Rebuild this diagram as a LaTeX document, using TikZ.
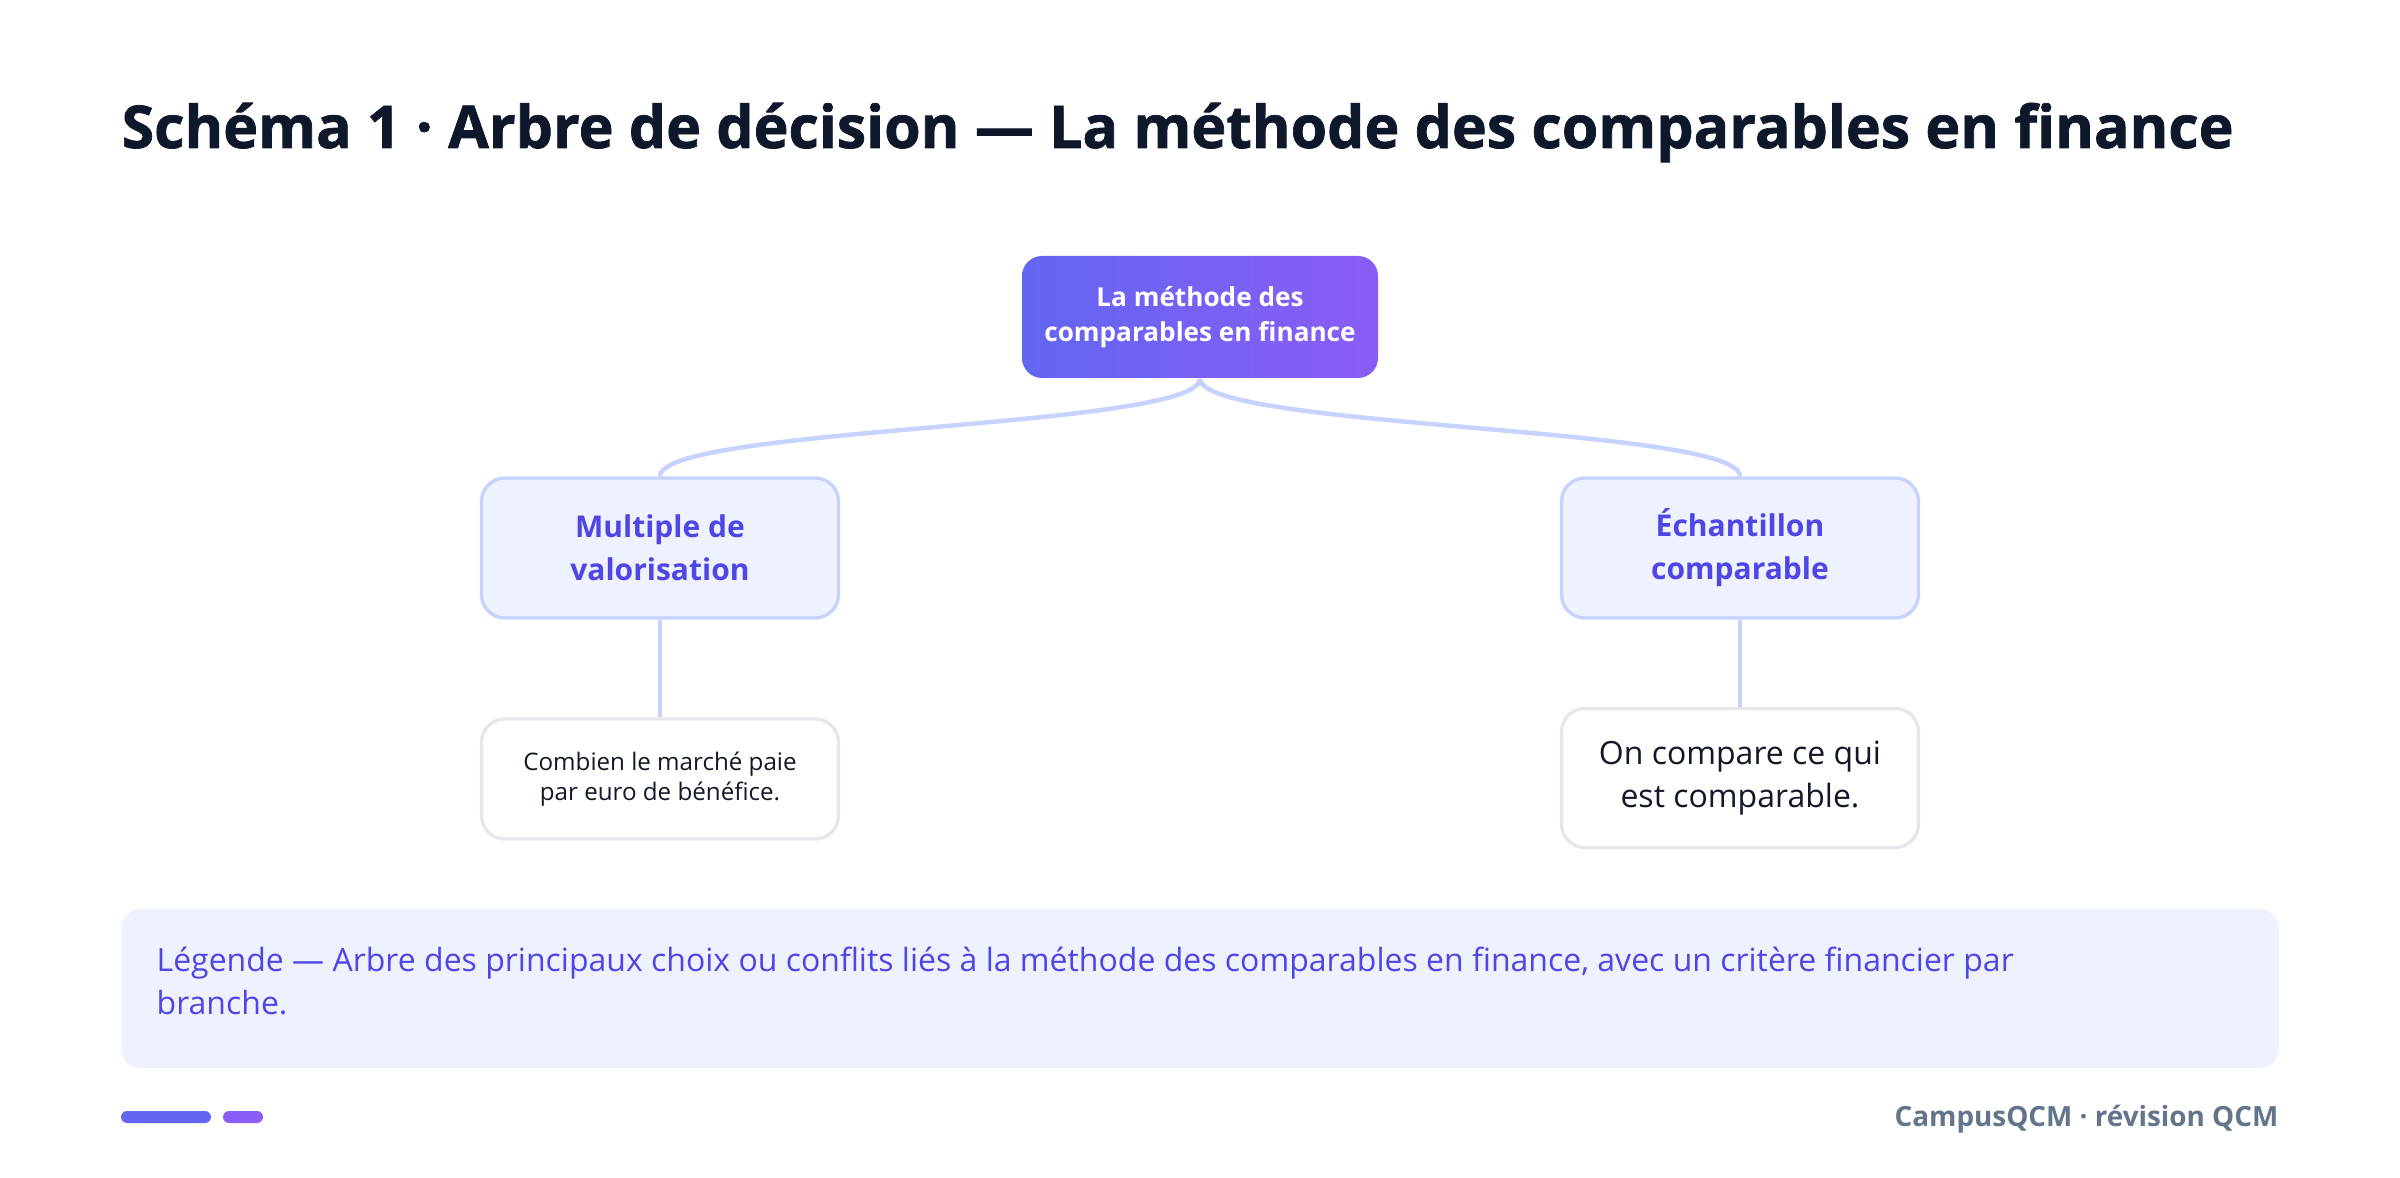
\documentclass[tikz,border=0pt]{standalone}
\usepackage{fontspec}
\setmainfont{Open Sans}
\newfontfamily\heavyfont{Open Sans}[BoldFeatures={FakeBold=1.2}]
\usetikzlibrary{positioning}

\definecolor{indigo}{HTML}{6366F1}
\definecolor{violet}{HTML}{8B5CF6}
\definecolor{edgeblue}{HTML}{C7D2FE}
\definecolor{palefill}{HTML}{EEF2FF}
\definecolor{inktext}{HTML}{4F46E5}
\definecolor{darktext}{HTML}{111827}
\definecolor{leafline}{HTML}{E5E7EB}
\definecolor{titletext}{HTML}{0F172A}
\definecolor{footgray}{HTML}{64748B}

\tikzset{
  rootbox/.style={rounded corners=6pt, left color=indigo, right color=violet, draw=none,
    text=white, font=\fontsize{7.85}{10.5}\selectfont\bfseries, align=center,
    minimum width=106.8pt, minimum height=36.6pt, inner sep=0pt},
  choicebox/.style={rounded corners=7pt, fill=palefill, draw=edgeblue, line width=1pt,
    text=inktext, font=\fontsize{9}{12.9}\selectfont\bfseries, align=center,
    minimum width=107.1pt, minimum height=42pt, inner sep=0pt},
  leafbox/.style={rounded corners=7pt, fill=white, draw=leafline, line width=1pt,
    text=darktext, align=center, minimum width=107.1pt, inner sep=0pt},
  edge/.style={draw=edgeblue, line width=1.35pt}
}

\begin{document}
\begin{tikzpicture}[x=0.3pt, y=-0.3pt]

\useasboundingbox[fill=white] (0,0) rectangle (2400,1178);

% Title
\node[anchor=base west, inner sep=0pt, text=titletext, font=\fontsize{17.7}{22}\selectfont\heavyfont\bfseries]
  (title) at (121,148) {Schéma 1 · Arbre de décision — La méthode des comparables en finance};

% Tree nodes
\node[rootbox] (root) at (1200,317) {La méthode des\\comparables en finance};
\node[choicebox] (multiple) at (660,548) {Multiple de\\valorisation};
\node[choicebox] (sample) at (1740,548) {Échantillon\\comparable};
\node[leafbox, minimum height=36pt, font=\fontsize{7.25}{8.9}\selectfont]
  (multleaf) at (660,779) {Combien le marché paie\\par euro de bénéfice.};
\node[leafbox, minimum height=41.7pt, font=\fontsize{9.6}{12.9}\selectfont]
  (sampleaf) at (1740,778) {On compare ce qui\\est comparable.};

% Branches
\draw[edge] (root.south) .. controls +(0,50) and +(0,-50) .. (multiple.north);
\draw[edge] (root.south) .. controls +(0,50) and +(0,-50) .. (sample.north);
\draw[edge] (multiple.south) -- (multleaf.north);
\draw[edge] (sample.south) -- (sampleaf.north);

% Legend
\fill[palefill, rounded corners=6pt] (121,909) rectangle (2279,1068);
\node[anchor=west, inner sep=0pt, align=left, text=inktext, font=\fontsize{9.6}{12.9}\selectfont]
  (legend) at (156,981) {Légende — Arbre des principaux choix ou conflits liés à la méthode des comparables en finance, avec un critère financier par\\branche.};

% Footer
\fill[indigo, rounded corners=1.8pt] (121,1111) rectangle (211,1123);
\fill[violet, rounded corners=1.8pt] (223,1111) rectangle (263,1123);
\node[anchor=east, inner sep=0pt, text=footgray, font=\fontsize{8.35}{10}\selectfont\bfseries]
  (footer) at (2279,1119) {CampusQCM · révision QCM};

\end{tikzpicture}
\end{document}
